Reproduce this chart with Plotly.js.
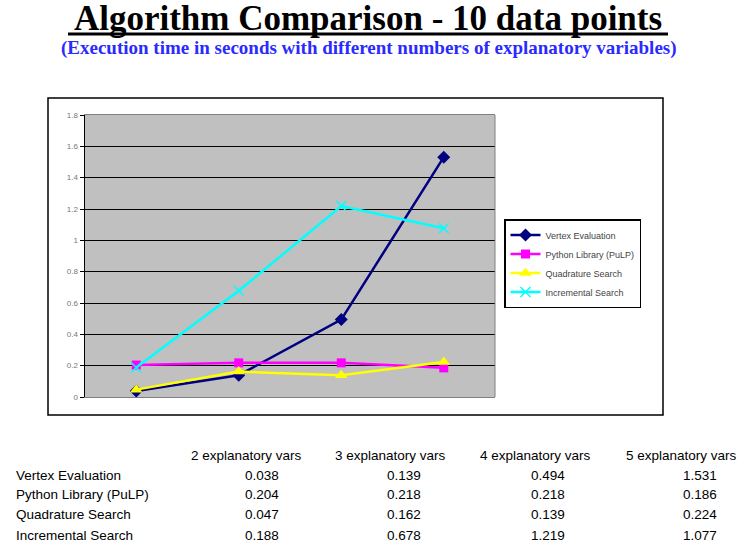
<!DOCTYPE html>
<html>
<head>
<meta charset="utf-8">
<script src="https://cdn.plot.ly/plotly-3.0.1.min.js"></script>
<style>html,body{margin:0;padding:0;background:#fff;}#chart{width:742px;height:546px;}</style>
</head>
<body>
<div id="chart"></div>
<script>
const categories = ["2 explanatory vars", "3 explanatory vars", "4 explanatory vars", "5 explanatory vars"];
const seriesNames = ["Vertex Evaluation", "Python Library (PuLP)", "Quadrature Search", "Incremental Search"];
const vertexEvaluation = [0.038, 0.139, 0.494, 1.531];
const pythonLibrary = [0.204, 0.218, 0.218, 0.186];
const quadratureSearch = [0.047, 0.162, 0.139, 0.224];
const incrementalSearch = [0.188, 0.678, 1.219, 1.077];
const valueLabels = [
  ["0.038", "0.139", "0.494", "1.531"],
  ["0.204", "0.218", "0.218", "0.186"],
  ["0.047", "0.162", "0.139", "0.224"],
  ["0.188", "0.678", "1.219", "1.077"]
];
const yTicks = [0, 0.2, 0.4, 0.6, 0.8, 1, 1.2, 1.4, 1.6, 1.8];

const W = 742, H = 546;
const M = {l: 85, r: 247, t: 115, b: 149};
const pw = W - M.l - M.r, ph = H - M.t - M.b;
const px = x => (x - M.l) / pw;
const py = y => (H - M.b - y) / ph;

const styles = [
  {color: "#000080", symbol: "diamond", size: 10},
  {color: "#ff00ff", symbol: "square", size: 9},
  {color: "#ffff00", symbol: "triangle-up", size: 11},
  {color: "#00ffff", symbol: "x-thin-open", size: 10}
];
const allSeries = [vertexEvaluation, pythonLibrary, quadratureSearch, incrementalSearch];

const traces = allSeries.map((vals, i) => ({
  type: "scatter", mode: "lines+markers",
  name: seriesNames[i],
  x: categories, y: vals,
  line: {color: styles[i].color, width: 2.5},
  marker: {color: styles[i].color, symbol: styles[i].symbol, size: styles[i].size,
           line: {color: styles[i].color, width: i === 3 ? 1.5 : 0}}
}));

const tableFont = {family: "Liberation Sans Narrow, Arial Narrow, Liberation Sans, sans-serif", size: 13.5, color: "#000"};
const annotations = [];
annotations.push({
  xref: "paper", yref: "paper", x: px(369), y: py(48), xanchor: "center", yanchor: "middle",
  text: "<b>(Execution time in seconds with different numbers of explanatory variables)</b>",
  showarrow: false, font: {family: "Liberation Serif, Times New Roman, serif", size: 19, color: "#2a2aff"}
});
const headerX = [246, 390, 535, 681];
const valueX = [262, 404, 548, 700];
const rowY = [475, 494, 514, 535];
categories.forEach((c, j) => annotations.push({
  xref: "paper", yref: "paper", x: px(headerX[j]), y: py(455), xanchor: "center", yanchor: "middle",
  text: c, showarrow: false, font: tableFont
}));
seriesNames.forEach((n, i) => {
  annotations.push({xref: "paper", yref: "paper", x: px(14), y: py(rowY[i]), xanchor: "left", yanchor: "middle",
    text: n, showarrow: false, font: tableFont});
  valueLabels[i].forEach((v, j) => annotations.push({
    xref: "paper", yref: "paper", x: px(valueX[j]), y: py(rowY[i]), xanchor: "center", yanchor: "middle",
    text: v, showarrow: false, font: tableFont}));
});

const shapes = [
  {type: "rect", xref: "paper", yref: "paper", x0: px(48), x1: px(663), y0: py(415), y1: py(98),
   line: {color: "#000", width: 1.5}, fillcolor: "rgba(0,0,0,0)", layer: "below"},
  {type: "line", xref: "paper", yref: "paper", x0: 1, x1: 1, y0: 0, y1: 1, line: {color: "#808080", width: 1}},
  {type: "line", xref: "paper", yref: "paper", x0: px(68), x1: px(668), y0: py(34), y1: py(34), line: {color: "#000", width: 3}}
];

const layout = {
  width: W, height: H, margin: M,
  paper_bgcolor: "#fff", plot_bgcolor: "#c0c0c0",
  title: {text: "<b>Algorithm Comparison - 10 data points</b>", x: 368 / W, xref: "container", xanchor: "center",
          y: 1 - 18 / H, yref: "container", yanchor: "middle",
          font: {family: "Liberation Serif, Times New Roman, serif", size: 35, color: "#000"}},
  xaxis: {type: "category", categoryarray: categories, range: [-0.5, 3.5], showticklabels: false,
          showgrid: false, zeroline: false, showline: true, linecolor: "#808080", linewidth: 1, mirror: true, ticks: ""},
  yaxis: {range: [0, 1.8], tickvals: yTicks, ticktext: yTicks.map(String), showgrid: true, gridcolor: "#000", gridwidth: 1,
          zeroline: false, showline: true, linecolor: "#000", linewidth: 1.5, ticks: "outside", ticklen: 4,
          tickcolor: "#000", tickfont: {family: "Liberation Sans, Arial, sans-serif", size: 8, color: "#777"}},
  legend: {x: px(504), y: py(219), xanchor: "left", yanchor: "top", bgcolor: "#fff", bordercolor: "#000", borderwidth: 1.5,
           font: {family: "Liberation Sans, Arial, sans-serif", size: 9, color: "#444"}, tracegroupgap: 0, itemwidth: 30},
  showlegend: true,
  annotations: annotations,
  shapes: shapes
};

Plotly.newPlot("chart", traces, layout, {displayModeBar: false, staticPlot: true});
</script>
</body>
</html>
